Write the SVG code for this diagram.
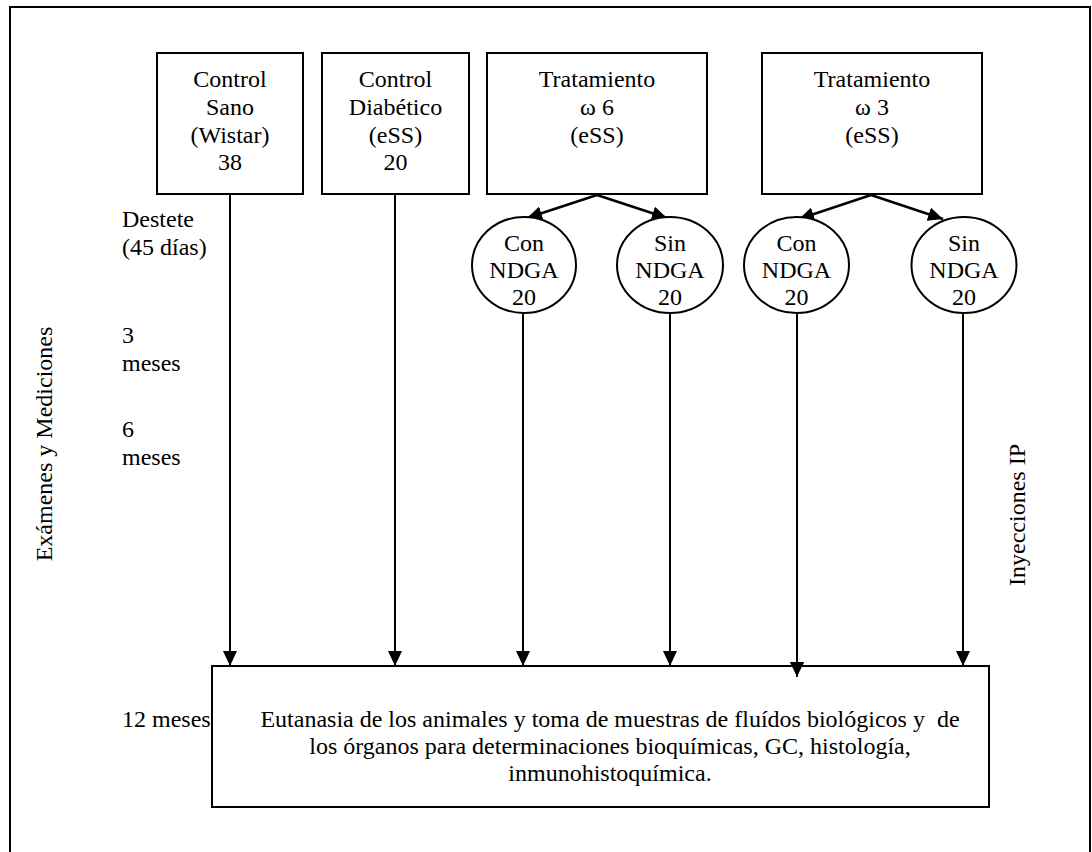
<svg xmlns="http://www.w3.org/2000/svg" width="1092" height="852" viewBox="0 0 1092 852">
<style>
text{font-family:"Liberation Serif","Times New Roman",serif;font-size:24px;fill:#000}
.c{text-anchor:middle}
.box{fill:#fff;stroke:#000;stroke-width:2}
.ell{fill:#fff;stroke:#000;stroke-width:2}
.ln{fill:none;stroke:#000;stroke-width:2}
.dg{fill:none;stroke:#000;stroke-width:2.5}
</style>
<defs>
<marker id="ah" markerUnits="userSpaceOnUse" viewBox="0 0 15 14" refX="15" refY="7" markerWidth="15" markerHeight="14" orient="auto">
<path d="M0,0 L15,7 L0,14 z" fill="#000"/>
</marker>
</defs>
<rect x="0" y="0" width="1092" height="852" fill="#fff"/>
<g id="frame"><path d="M10,860 V7 H1090 V860" class="ln"/></g>

<g id="connectors">
<line x1="230" y1="194" x2="230" y2="666" class="ln" marker-end="url(#ah)"/>
<line x1="395" y1="194" x2="395" y2="666" class="ln" marker-end="url(#ah)"/>
<line x1="597" y1="195" x2="527" y2="218" class="dg" marker-end="url(#ah)"/>
<line x1="597" y1="195" x2="667" y2="218" class="dg" marker-end="url(#ah)"/>
<line x1="871" y1="195" x2="799" y2="219" class="dg" marker-end="url(#ah)"/>
<line x1="871" y1="195" x2="943" y2="219" class="dg" marker-end="url(#ah)"/>
<line x1="523" y1="313" x2="523" y2="666" class="ln" marker-end="url(#ah)"/>
<line x1="670" y1="313" x2="670" y2="666" class="ln" marker-end="url(#ah)"/>
<line x1="797" y1="313" x2="797" y2="677" class="ln" marker-end="url(#ah)"/>
<line x1="963" y1="313" x2="963" y2="666" class="ln" marker-end="url(#ah)"/>
</g>

<g id="control-sano">
<rect x="157" y="53" width="146" height="141" class="box"/>
<text class="c" x="230" y="87">Control</text>
<text class="c" x="230" y="115">Sano</text>
<text class="c" x="230" y="143">(Wistar)</text>
<text class="c" x="230" y="170">38</text>
</g>
<g id="control-diabetico">
<rect x="322" y="53" width="147" height="141" class="box"/>
<text class="c" x="395.5" y="87">Control</text>
<text class="c" x="395.5" y="115">Diabético</text>
<text class="c" x="395.5" y="143">(eSS)</text>
<text class="c" x="395.5" y="170">20</text>
</g>
<g id="tratamiento-w6">
<rect x="487" y="53" width="220" height="141" class="box"/>
<text class="c" x="597" y="87">Tratamiento</text>
<text class="c" x="597" y="115">ω 6</text>
<text class="c" x="597" y="143">(eSS)</text>
</g>
<g id="tratamiento-w3">
<rect x="762" y="53" width="220" height="141" class="box"/>
<text class="c" x="872" y="87">Tratamiento</text>
<text class="c" x="872" y="115">ω 3</text>
<text class="c" x="872" y="143">(eSS)</text>
</g>

<g id="con-ndga-w6">
<ellipse cx="524" cy="265" rx="52" ry="48" class="ell"/>
<text class="c" x="524" y="251">Con</text>
<text class="c" x="524" y="278">NDGA</text>
<text class="c" x="524" y="305">20</text>
</g>
<g id="sin-ndga-w6">
<ellipse cx="670" cy="265" rx="53" ry="48" class="ell"/>
<text class="c" x="670" y="251">Sin</text>
<text class="c" x="670" y="278">NDGA</text>
<text class="c" x="670" y="305">20</text>
</g>
<g id="con-ndga-w3">
<ellipse cx="796.5" cy="265" rx="52.5" ry="48" class="ell"/>
<text class="c" x="796.5" y="251">Con</text>
<text class="c" x="796.5" y="278">NDGA</text>
<text class="c" x="796.5" y="305">20</text>
</g>
<g id="sin-ndga-w3">
<ellipse cx="964" cy="265" rx="52.5" ry="48" class="ell"/>
<text class="c" x="964" y="251">Sin</text>
<text class="c" x="964" y="278">NDGA</text>
<text class="c" x="964" y="305">20</text>
</g>

<g id="eutanasia">
<rect x="212" y="666" width="777" height="141" class="box"/>
<text class="c" x="610" y="727" xml:space="preserve">Eutanasia de los animales y toma de muestras de fluídos biológicos y  de</text>
<text class="c" x="610" y="754">los órganos para determinaciones bioquímicas, GC, histología,</text>
<text class="c" x="610" y="781">inmunohistoquímica.</text>
</g>
<line x1="797" y1="650" x2="797" y2="677" class="ln" marker-end="url(#ah)"/>

<g id="labels">
<text x="122" y="227">Destete</text>
<text x="122" y="255">(45 días)</text>
<text x="122" y="343">3</text>
<text x="122" y="371">meses</text>
<text x="122" y="437">6</text>
<text x="122" y="465">meses</text>
<text x="122" y="727">12 meses</text>
<text class="c" transform="translate(52,444) rotate(-90)">Exámenes y Mediciones</text>
<text class="c" transform="translate(1025,515) rotate(-90)">Inyecciones IP</text>
</g>
</svg>
